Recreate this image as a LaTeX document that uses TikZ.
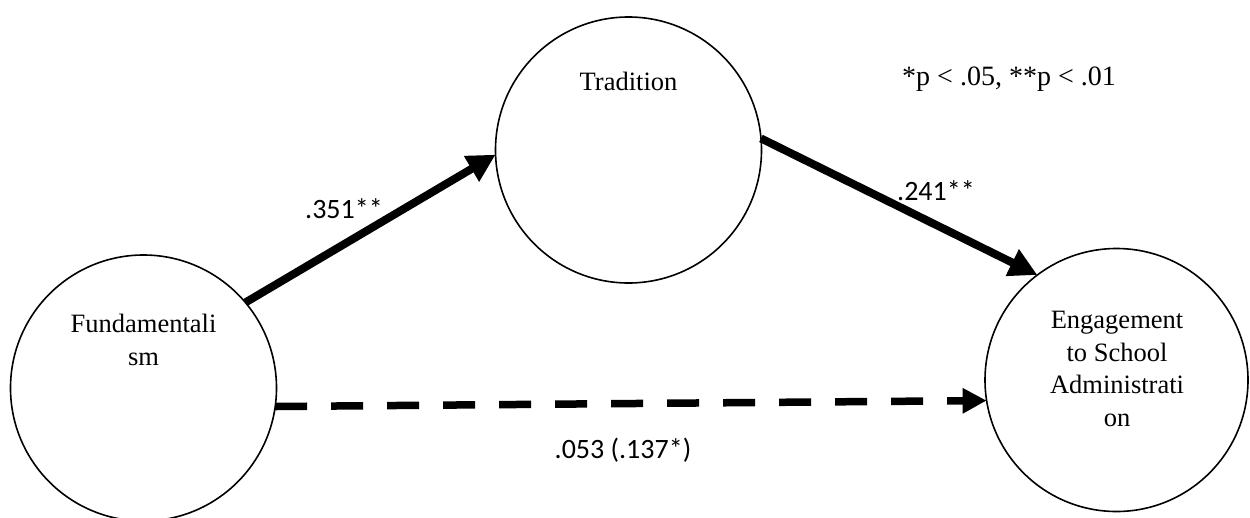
\documentclass[tikz,border=0pt]{standalone}
\usepackage{fontspec}
\setmainfont{Liberation Serif}
\newfontfamily\labfont{Carlito}
\usetikzlibrary{arrows.meta}
\begin{document}
\begin{tikzpicture}[x=1pt,y=-1pt,
  circ/.style={circle,draw=black,line width=1.6pt,inner sep=0pt,outer sep=0pt},
  inlabel/.style={align=center,font=\fontsize{26.5}{32.5}\selectfont,inner sep=0pt},
  coef/.style={font=\labfont\fontsize{28}{32}\selectfont,inner sep=0pt,anchor=base},
  patharrow/.style={line width=8pt,-{Triangle[length=28pt,width=28pt]}},
  dasharrow/.style={line width=7.5pt,dash pattern=on 32pt off 24pt,-{Triangle[length=24pt,width=24pt]}}
]
\useasboundingbox (0,0) rectangle (1250,517);
\node[circ,minimum size=266pt] (fund) at (143.5,388) {};
\node[circ,minimum size=266pt] (trad) at (628.5,150) {};
\node[circ,minimum size=263pt] (eng) at (1116.5,380) {};

\node[inlabel,anchor=base] (tradtxt) at (628.5,90) {Tradition};
\node[inlabel] (fundtxt) at (143.5,340) {Fundamentali\\sm};
\node[inlabel] (engtxt) at (1117,369) {Engagement\\to School\\Administrati\\on};

\draw[patharrow] (fund.40) -- (trad.182);
\draw[patharrow] (trad.5.5) -- (eng.127);
\draw[dasharrow] (fund.-8.6) -- (eng.189.4);

\node[coef] (c1) at (344,218) {.351**};
\node[coef] (c2) at (936,200) {.241**};
\node[coef] (c3) at (623,458) {.053 (.137*)};
\node[font=\fontsize{28}{32}\selectfont,inner sep=0pt,anchor=base west] (legend) at (902,85) {*p < .05, **p < .01};
\end{tikzpicture}
\end{document}
